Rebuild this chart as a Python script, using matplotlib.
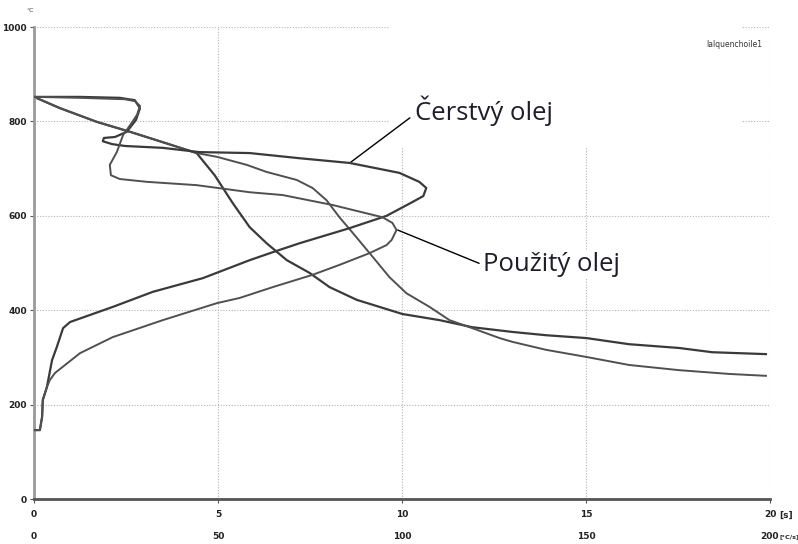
import numpy as np
import matplotlib.pyplot as plt
from matplotlib.patches import Rectangle

# time-temperature curves (t [s], T [°C])
fresh_t = [0, 0.71, 1.71, 2.61, 3.50, 4.42, 4.91, 5.40, 5.86, 6.32, 6.87, 7.49, 8.03, 8.77,
           9.39, 10.01, 11.02, 11.91, 13.0, 13.92, 15.01, 16.17, 17.53, 18.43, 19.89]
fresh_T = [852, 828, 799, 778, 756, 733, 686, 627, 576, 542, 506, 479, 449, 422,
           407, 392, 379, 364, 354, 347, 341, 328, 320, 311, 307]

used_t = [0, 0.71, 1.71, 2.61, 3.50, 4.42, 4.97, 5.78, 6.32, 7.14, 7.57, 7.95, 8.30, 8.66,
          9.12, 9.66, 10.12, 10.75, 11.29, 11.91, 12.65, 13.0, 13.92, 15.01, 16.17, 17.53,
          18.89, 19.89]
used_T = [852, 828, 799, 778, 756, 733, 725, 708, 693, 676, 659, 633, 597, 564,
          521, 470, 436, 407, 379, 362, 341, 333, 316, 301, 284, 273, 265, 261]

# cooling-rate curves (rate [°C/s], T [°C])
fresh_rate = [0, 12.5, 23.3, 27.4, 28.8, 27.7, 25.2, 22.0, 19.0, 18.7, 21.2, 24.7, 35.0,
              45.0, 58.6, 72.2, 85.8, 99.3, 104.7, 106.6, 105.8, 102.8, 95.8, 85.8, 72.2,
              64.9, 58.6, 45.9, 32.3, 21.4, 9.8, 7.9, 6.2, 4.9, 3.5, 2.4, 2.2, 1.6, 0.3]
fresh_rT = [852, 852, 850, 845, 828, 803, 778, 767, 765, 758, 752, 748, 744,
            735, 733, 722, 712, 691, 672, 659, 642, 629, 600, 574, 542,
            523, 506, 468, 439, 407, 375, 362, 322, 294, 237, 210, 174, 146, 146]

used_rate = [0, 12.5, 24.7, 27.4, 28.8, 28.0, 26.1, 24.2, 22.5, 20.6, 20.9, 23.3, 30.7,
             44.2, 58.6, 67.6, 81.1, 94.7, 97.4, 98.5, 97.2, 95.8, 91.2, 83.0, 75.7,
             64.9, 55.9, 49.7, 35.0, 21.4, 12.5, 5.7, 4.3, 3.5, 2.4, 2.2, 1.6, 0.3]
used_rT = [852, 850, 847, 843, 833, 814, 792, 771, 735, 708, 686, 678, 672,
           665, 650, 644, 623, 597, 585, 570, 549, 538, 521, 496, 475,
           449, 426, 415, 379, 343, 309, 267, 252, 237, 210, 174, 146, 146]

t_ticks = [0, 5, 10, 15, 20]
rate_ticks = [0, 50, 100, 150, 200]
T_ticks = [0, 200, 400, 600, 800, 1000]

fig = plt.figure(figsize=(7.98, 5.44), dpi=100)
ax = fig.add_axes([0.0426, 0.0827, 0.9223, 0.8676])
ax.set_xlim(0, 20)
ax.set_ylim(0, 1000)
ax.set_axisbelow(True)

tick_font = dict(fontsize=6.5, color='#222222', fontweight='bold')
ax.set_xticks(t_ticks)
ax.set_xticklabels([str(v) for v in t_ticks], **tick_font)
ax.set_yticks(T_ticks)
ax.set_yticklabels([str(v) for v in T_ticks], **tick_font)
ax.tick_params(axis='both', length=3, width=0.8, color='#555555', pad=2)
ax.tick_params(axis='x', pad=5)
ax.grid(True, color='#b5b5b5', linestyle=(0, (1, 1.5)), linewidth=0.8)
for s in ['top', 'right']:
    ax.spines[s].set_visible(False)
ax.spines['left'].set_color('#9a9a9a')
ax.spines['left'].set_linewidth(2)
ax.spines['bottom'].set_color('#555555')
ax.spines['bottom'].set_linewidth(2)

ax2 = ax.twiny()
ax2.set_xlim(0, 200)
ax2.xaxis.set_ticks_position('bottom')
ax2.xaxis.set_label_position('bottom')
ax2.spines['bottom'].set_position(('outward', 22))
for s in ['top', 'right', 'left', 'bottom']:
    ax2.spines[s].set_visible(False)
ax2.set_xticks(rate_ticks)
ax2.set_xticklabels([str(v) for v in rate_ticks], **tick_font)
ax2.tick_params(axis='x', length=0, pad=2)

# white box that hides the grid behind the label
ax.add_patch(Rectangle((9.66, 744), 9.55, 300, facecolor='white', edgecolor='none',
                       zorder=1.2, clip_on=False))

lc = '#3a3a3a'
ax.plot(fresh_t, fresh_T, color=lc, lw=1.6, zorder=2)
ax.plot(used_t, used_T, color='#505050', lw=1.4, zorder=2)
ax2.plot(fresh_rate, fresh_rT, color=lc, lw=1.6, zorder=2)
ax2.plot(used_rate, used_rT, color='#505050', lw=1.4, zorder=2)

ax.annotate('Čerstvý olej', xy=(8.58, 712), xytext=(10.35, 822), ha='left', va='center',
            fontsize=18.5, family='Open Sans', color='#1e1e2a', zorder=3,
            arrowprops=dict(arrowstyle='-', color='black', lw=1, shrinkA=2, shrinkB=0,
                            relpos=(0, 0.4)))
ax.annotate('Použitý olej', xy=(9.88, 570), xytext=(12.2, 496), ha='left', va='center',
            fontsize=18.5, family='Open Sans', color='#1e1e2a', zorder=3,
            bbox=dict(facecolor='white', edgecolor='none', pad=1),
            arrowprops=dict(arrowstyle='-', color='black', lw=1, shrinkA=2, shrinkB=0,
                            relpos=(0, 0.5)))

ax.text(0.99, 0.962, 'lalquenchoile1', transform=ax.transAxes, ha='right', va='center',
        fontsize=5.5, color='#333333',
        bbox=dict(facecolor='white', edgecolor='none', pad=3))
ax.text(-0.01, 1.035, '°C', transform=ax.transAxes, ha='left', va='center',
        fontsize=4.5, color='#333333')
fig.text(779 / 798, 1 - 515 / 544, '[s]', ha='left', va='center', **tick_font)
fig.text(779 / 798, 1 - 537 / 544, '[°C/s]', ha='left', va='center',
         fontsize=4.6, color='#222222', fontweight='bold')

fig.savefig('out.png', dpi=100)
